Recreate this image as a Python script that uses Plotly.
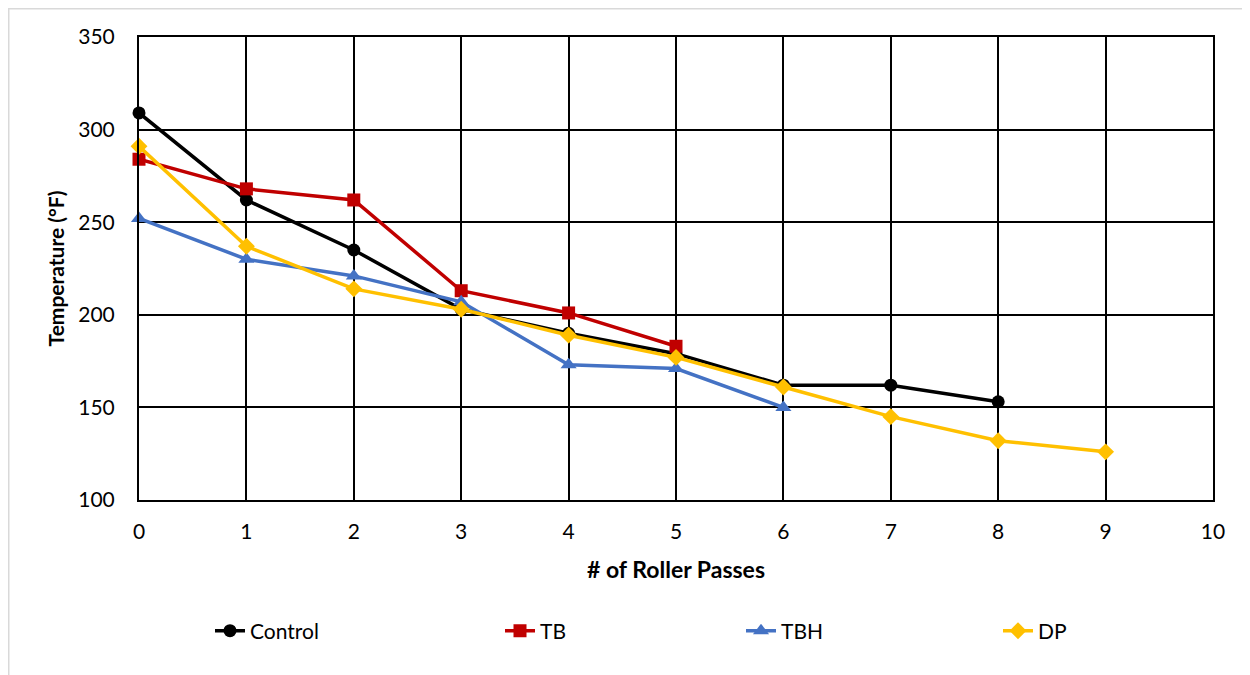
import plotly.graph_objects as go

passes_control = [0, 1, 2, 3, 4, 5, 6, 7, 8]
control = [309, 262, 235, 203, 190, 179, 162, 162, 153]
passes_tb = [0, 1, 2, 3, 4, 5]
tb = [284, 268, 262, 213, 201, 183]
passes_tbh = [0, 1, 2, 3, 4, 5, 6]
tbh = [252, 230, 221, 207, 173, 171, 150]
passes_dp = [0, 1, 2, 3, 4, 5, 6, 7, 8, 9]
dp = [291, 237, 214, 203, 189, 177, 161, 145, 132, 126]

FONT = "Lato"

L, T, B = 131, 29, 183
PW, PH = 1074, 463

# legend left edges in screen pixels (page has 8px offset)
legend_left_px = [216, 506, 747, 1004]

fig = go.Figure()
series = [
    ("Control", passes_control, control, "#000000", "circle", 13),
    ("TB", passes_tb, tb, "#C00000", "square", 13),
    ("TBH", passes_tbh, tbh, "#4472C4", "triangle-up", 14),
    ("DP", passes_dp, dp, "#FFC000", "diamond", 13),
]
legend_names = ["legend", "legend2", "legend3", "legend4"]
for (name, x, y, c, sym, ms), lg in zip(series, legend_names):
    fig.add_trace(go.Scatter(
        x=x, y=y, name=name, mode="lines+markers",
        line=dict(color=c, width=3.5),
        marker=dict(color=c, symbol=sym, size=ms),
        cliponaxis=False, legend=lg,
    ))

legend_cfg = {}
for lg, px in zip(legend_names, legend_left_px):
    legend_cfg[lg] = dict(
        orientation="h", x=(px - 8 - L - 6) / PW, y=-0.283,
        xanchor="left", yanchor="middle",
        font=dict(family=FONT, size=21), bgcolor="rgba(0,0,0,0)",
    )

fig.update_layout(
    width=1250, height=675,
    margin=dict(l=L, r=1250 - L - PW, t=T, b=B),
    paper_bgcolor="white", plot_bgcolor="white",
    font=dict(family=FONT, size=21, color="#000000"),
    xaxis=dict(
        range=[0, 10], dtick=1, tick0=0,
        showgrid=True, gridcolor="#000000", gridwidth=2,
        showline=True, linecolor="#000000", linewidth=2, mirror=True,
        zeroline=False, ticks="", ticklabelstandoff=12,
        title=dict(text="<b># of Roller Passes</b>", font=dict(family=FONT, size=23), standoff=20),
    ),
    yaxis=dict(
        range=[100, 350], dtick=50,
        showgrid=True, gridcolor="#000000", gridwidth=2,
        showline=True, linecolor="#000000", linewidth=2, mirror=True,
        zeroline=False, ticks="", ticklabelstandoff=18,
        title=dict(text="<b>Temperature (°F)</b>", font=dict(family=FONT, size=21), standoff=8),
    ),
    showlegend=True,
    shapes=[
        dict(type="line", xref="paper", yref="paper",
             x0=-L / PW, x1=1.2, y0=(675 - B - 0.75) / PH, y1=(675 - B - 0.75) / PH,
             line=dict(color="#D9D9D9", width=1.5)),
        dict(type="line", xref="paper", yref="paper",
             x0=-(L - 0.75) / PW, x1=-(L - 0.75) / PW, y0=(675 - B) / PH, y1=-1,
             line=dict(color="#D9D9D9", width=1.5)),
    ],
    **legend_cfg,
)

fig.write_html("out.html")
